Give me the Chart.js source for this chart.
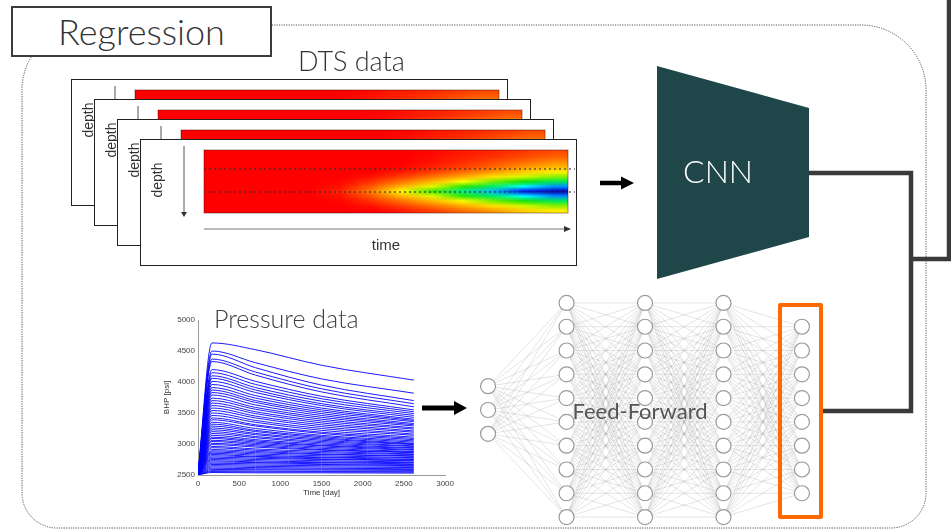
<!DOCTYPE html>
<html>
<head>
<meta charset="utf-8">
<script src="https://cdn.jsdelivr.net/npm/chart.js@4.4.0/dist/chart.umd.min.js"></script>
<style>
  html, body { margin: 0; padding: 0; background: #fff; }
  #stage { position: relative; width: 951px; height: 531px; overflow: hidden; font-family: Lato, "Open Sans", sans-serif; }
  .abs { position: absolute; }
  .frame { position: absolute; width: 437px; height: 127px; border: 1px solid #222; box-sizing: border-box; background: #fff; }
  .frame canvas { position: absolute; left: 0; top: 0; }
  svg { position: absolute; left: 0; top: 0; }
  #regBox { position: absolute; left: 11px; top: 6px; width: 261px; height: 51px; border: 2px solid #3c3c3c; box-sizing: border-box; background: #fff;
            font: 300 36px Lato, sans-serif; color: #333; text-align: center; line-height: 46px; }
  #outBox { position: absolute; left: 778px; top: 303px; width: 45px; height: 216px; border: 4px solid #ff6a00; box-sizing: border-box; border-radius: 2px; }
</style>
</head>
<body>
<div id="stage">
  <svg width="951" height="531">
    <path d="M 87 25 H 861 A 65 65 0 0 1 926 90 V 493 A 35 35 0 0 1 891 528 H 57 A 35 35 0 0 1 22 493 V 90 A 65 65 0 0 1 87 25 Z"
          fill="none" stroke="#555" stroke-width="1" stroke-dasharray="1.2 1.2"/>
  </svg>

  <div id="frames"></div>

  <canvas id="pressureChart" class="abs" style="left:158px;top:312px" width="300" height="189"></canvas>
  <canvas id="nnChart" class="abs" style="left:470px;top:292px" width="350" height="236"></canvas>
  <div id="outBox"></div>

  <svg width="951" height="531">
    <!-- connectors -->
    <path d="M 809 173 H 911 V 411 H 823" fill="none" stroke="#3a3a3a" stroke-width="4.5"/>
    <path d="M 911 259 H 949 V -5" fill="none" stroke="#3a3a3a" stroke-width="4.5"/>
    <!-- CNN block -->
    <polygon points="657,66 809,108 809,237 657,279" fill="#1f4649"/>
    <text x="718" y="183" text-anchor="middle" fill="#fff" style="font: 300 32px Lato, sans-serif">CNN</text>
    <!-- arrows -->
    <line x1="600" y1="183" x2="623" y2="183" stroke="#000" stroke-width="4.5"/>
    <polygon points="621,176.5 634,183 621,189.5" fill="#000"/>
    <line x1="422" y1="408" x2="456" y2="408" stroke="#000" stroke-width="5"/>
    <polygon points="454,401 467,408 454,415" fill="#000"/>
    <!-- labels -->
    <text x="298" y="71" fill="#333" style="font: 300 27px Lato, sans-serif">DTS data</text>
    <text x="214" y="328" fill="#404040" style="font: 300 25px Lato, sans-serif">Pressure data</text>
    <text x="640" y="419" text-anchor="middle" fill="#555" style="font: 400 22px Lato, sans-serif">Feed-Forward</text>
  </svg>

  <div id="regBox">Regression</div>
</div>

<script>
// ---------- data ----------
// pressure runs: BHP [psi] at the sample times (days)
const pressureTimes = [0, 170, 700, 1500, 2620];
const pressureRuns = [
  [2530, 4630, 4520, 4270, 4030],
  [2530, 4500, 4310, 4050, 3820],
  [2530, 4450, 4230, 3950, 3700],
  [2520, 4370, 4160, 3890, 3650],
  [2520, 4330, 4110, 3840, 3600],
  [2520, 4200, 4010, 3770, 3550],
  [2520, 4150, 3960, 3730, 3520],
  [2520, 4100, 3910, 3690, 3490],
  [2520, 4060, 3870, 3650, 3460],
  [2520, 4010, 3830, 3620, 3430],
  [2520, 3960, 3780, 3580, 3400],
  [2520, 3910, 3740, 3550, 3380],
  [2520, 3870, 3700, 3520, 3360],
  [2520, 3830, 3670, 3490, 3330],
  [2520, 3790, 3630, 3460, 3310],
  [2520, 3740, 3590, 3430, 3290],
  [2520, 3700, 3560, 3400, 3260],
  [2520, 3660, 3520, 3370, 3240],
  [2520, 3620, 3490, 3340, 3210],
  [2520, 3580, 3450, 3310, 3190],
  [2520, 3540, 3420, 3280, 3160],
  [2520, 3500, 3380, 3250, 3140],
  [2520, 3460, 3350, 3220, 3110],
  [2520, 3420, 3310, 3190, 3090],
  [2520, 3390, 3290, 3170, 3070],
  [2520, 3350, 3250, 3140, 3050],
  [2520, 3320, 3220, 3120, 3030],
  [2520, 3290, 3200, 3100, 3010],
  [2520, 3260, 3170, 3080, 3000],
  [2520, 3230, 3150, 3060, 2990],
  [2520, 3200, 3120, 3040, 2970],
  [2520, 3170, 3100, 3020, 2960],
  [2520, 3140, 3070, 3000, 2940],
  [2520, 3110, 3050, 2980, 2930],
  [2520, 3090, 3030, 2970, 2910],
  [2520, 3060, 3010, 2950, 2900],
  [2520, 3040, 2990, 2930, 2880],
  [2520, 3010, 2970, 2910, 2870],
  [2520, 2990, 2950, 2900, 2860],
  [2520, 2960, 2920, 2880, 2840],
  [2520, 2940, 2900, 2860, 2830],
  [2520, 2910, 2880, 2840, 2810],
  [2510, 2890, 2860, 2830, 2800],
  [2510, 2870, 2840, 2810, 2780],
  [2510, 2850, 2820, 2790, 2770],
  [2510, 2830, 2800, 2780, 2750],
  [2510, 2810, 2790, 2760, 2740],
  [2510, 2790, 2770, 2750, 2730],
  [2510, 2770, 2750, 2730, 2710],
  [2510, 2750, 2730, 2710, 2700],
  [2510, 2730, 2710, 2700, 2680],
  [2510, 2710, 2700, 2680, 2670],
  [2510, 2690, 2680, 2670, 2650],
  [2510, 2670, 2660, 2650, 2640],
  [2510, 2650, 2640, 2630, 2620],
  [2510, 2630, 2620, 2610, 2600],
  [2505, 2610, 2600, 2595, 2590],
  [2505, 2590, 2585, 2580, 2575],
  [2505, 2570, 2565, 2560, 2560],
  [2505, 2555, 2550, 2550, 2545],
  [2500, 2540, 2535, 2535, 2530]
];
const pressureXTicks = [0, 500, 1000, 1500, 2000, 2500, 3000];
const pressureYTicks = [2500, 3000, 3500, 4000, 4500, 5000];

// DTS temperature field (1 = hot/red, 0 = cold/blue), rows = depth, cols = time
const dtsGrid = [
  [1, 1, 1, 1, 1,    1,    1,    0.99, 0.96, 0.94, 0.91, 0.88],
  [1, 1, 1, 1, 1,    1,    1,    0.98, 0.95, 0.92, 0.88, 0.84],
  [1, 1, 1, 1, 1,    1,    1,    0.97, 0.93, 0.88, 0.83, 0.78],
  [1, 1, 1, 1, 1,    1,    0.99, 0.95, 0.90, 0.84, 0.77, 0.72],
  [1, 1, 1, 1, 1,    1,    0.96, 0.90, 0.83, 0.76, 0.69, 0.64],
  [1, 1, 1, 1, 1,    0.97, 0.90, 0.82, 0.74, 0.66, 0.59, 0.54],
  [1, 1, 1, 1, 0.99, 0.92, 0.82, 0.72, 0.62, 0.53, 0.46, 0.40],
  [1, 1, 1, 1, 0.97, 0.86, 0.72, 0.60, 0.48, 0.39, 0.30, 0.22],
  [1, 1, 1, 1, 0.94, 0.80, 0.62, 0.49, 0.37, 0.25, 0.13, 0.03],
  [1, 1, 1, 1, 0.97, 0.86, 0.72, 0.60, 0.48, 0.39, 0.30, 0.22],
  [1, 1, 1, 1, 0.99, 0.92, 0.82, 0.72, 0.62, 0.53, 0.46, 0.40],
  [1, 1, 1, 1, 1,    0.97, 0.90, 0.82, 0.74, 0.66, 0.59, 0.54],
  [1, 1, 1, 1, 1,    1,    0.96, 0.90, 0.83, 0.76, 0.69, 0.64]
];
const dtsDashDepths = [0.30, 0.667];
const dtsColorStops = [[0, [0, 0, 160]], [0.12, [0, 0, 255]], [0.30, [0, 255, 255]], [0.45, [0, 224, 0]],
                       [0.62, [255, 255, 0]], [0.80, [255, 128, 0]], [1, [255, 0, 0]]];

// network layout: nodes per layer
const layerSizes = [3, 10, 10, 10, 8];

// ---------- DTS frames ----------
function heatColor(v) {
  for (let i = 1; i < dtsColorStops.length; i++) {
    const [p1, c1] = dtsColorStops[i];
    const [p0, c0] = dtsColorStops[i - 1];
    if (v <= p1) {
      const t = (v - p0) / (p1 - p0);
      return c0.map((c, k) => Math.round(c + (c1[k] - c) * t));
    }
  }
  return dtsColorStops[dtsColorStops.length - 1][1];
}

const heatSrc = document.createElement('canvas');
heatSrc.width = dtsGrid[0].length;
heatSrc.height = dtsGrid.length;
(function () {
  const hctx = heatSrc.getContext('2d');
  const img = hctx.createImageData(heatSrc.width, heatSrc.height);
  dtsGrid.forEach((row, r) => row.forEach((v, c) => {
    const [R, G, B] = heatColor(v);
    const i = (r * heatSrc.width + c) * 4;
    img.data[i] = R; img.data[i + 1] = G; img.data[i + 2] = B; img.data[i + 3] = 255;
  }));
  hctx.putImageData(img, 0, 0);
})();

const dtsPlugin = {
  id: 'dts',
  afterDraw(chart) {
    const { ctx, chartArea: a, scales: { x, y } } = chart;
    const x0 = x.getPixelForValue(0), x1 = x.getPixelForValue(1);
    const y0 = y.getPixelForValue(0), y1 = y.getPixelForValue(1);
    ctx.save();
    ctx.fillStyle = '#ff0000';
    ctx.fillRect(x0, y0, x1 - x0, y1 - y0);
    ctx.imageSmoothingEnabled = true;
    ctx.drawImage(heatSrc, x0, y0, x1 - x0, y1 - y0);
    ctx.strokeStyle = 'rgba(60,0,0,0.45)';
    ctx.lineWidth = 1;
    ctx.strokeRect(x0, y0, x1 - x0, y1 - y0);

    // sensor lines
    ctx.setLineDash([2, 3]);
    ctx.strokeStyle = 'rgba(50,50,50,0.75)';
    ctx.lineWidth = 1.5;
    dtsDashDepths.forEach(d => {
      const yy = y.getPixelForValue(d);
      ctx.beginPath(); ctx.moveTo(x0, yy); ctx.lineTo(x1 + 7, yy); ctx.stroke();
    });
    ctx.setLineDash([]);

    // depth arrow
    const ax = a.left - 20;
    ctx.strokeStyle = '#555'; ctx.fillStyle = '#333'; ctx.lineWidth = 1;
    ctx.beginPath(); ctx.moveTo(ax, a.top - 4); ctx.lineTo(ax, a.bottom); ctx.stroke();
    ctx.beginPath(); ctx.moveTo(ax - 3, a.bottom - 1); ctx.lineTo(ax + 3, a.bottom - 1); ctx.lineTo(ax, a.bottom + 4); ctx.closePath(); ctx.fill();
    // time arrow
    const ty = a.bottom + 16;
    ctx.strokeStyle = '#777';
    ctx.beginPath(); ctx.moveTo(a.left, ty); ctx.lineTo(a.right - 2, ty); ctx.stroke();
    ctx.beginPath(); ctx.moveTo(a.right - 4, ty - 3); ctx.lineTo(a.right + 3, ty); ctx.lineTo(a.right - 4, ty + 3); ctx.closePath(); ctx.fill();

    // labels
    ctx.fillStyle = '#333';
    ctx.textAlign = 'center'; ctx.textBaseline = 'middle';
    ctx.font = '14px "Liberation Sans", Arial, sans-serif';
    ctx.save();
    ctx.translate(a.left - 46, a.top + 30);
    ctx.rotate(-Math.PI / 2);
    ctx.fillText('depth', 0, 0);
    ctx.restore();
    ctx.font = '15px "Liberation Sans", Arial, sans-serif';
    ctx.fillText('time', (a.left + a.right) / 2, a.bottom + 33);
    ctx.restore();
  }
};

const frameLefts = [71, 94, 117, 140];
const frameTops = [79, 99, 119, 139];
const framesEl = document.getElementById('frames');
frameLefts.forEach((left, i) => {
  const f = document.createElement('div');
  f.className = 'frame';
  f.style.left = left + 'px';
  f.style.top = frameTops[i] + 'px';
  const c = document.createElement('canvas');
  c.width = 435; c.height = 125;
  f.appendChild(c);
  framesEl.appendChild(f);
  new Chart(c, {
    type: 'scatter',
    data: { datasets: [] },
    plugins: [dtsPlugin],
    options: {
      responsive: false, animation: false, events: [],
      layout: { autoPadding: false, padding: { left: 63, top: 10, right: 8, bottom: 52 } },
      plugins: { legend: { display: false }, tooltip: { enabled: false } },
      scales: {
        x: { type: 'linear', min: 0, max: 1, display: false },
        y: { type: 'linear', min: 0, max: 1, reverse: true, display: false }
      }
    }
  });
});

// ---------- pressure chart ----------
const tickFont = { family: '"Liberation Sans", Arial, sans-serif', size: 8 };
new Chart(document.getElementById('pressureChart'), {
  type: 'line',
  data: {
    datasets: pressureRuns.map(run => ({
      data: run.map((v, k) => ({ x: pressureTimes[k], y: v })),
      borderColor: '#0000ff',
      borderWidth: 0.9,
      pointRadius: 0,
      cubicInterpolationMode: 'monotone',
      fill: false
    }))
  },
  options: {
    responsive: false, animation: false, events: [],
    layout: { autoPadding: false, padding: { top: 8, right: 9, left: 0, bottom: 0 } },
    plugins: { legend: { display: false }, tooltip: { enabled: false } },
    scales: {
      x: {
        type: 'linear', min: 0, max: 3000,
        afterBuildTicks: s => { s.ticks = pressureXTicks.map(v => ({ value: v })); },
        afterFit: s => { s.height = 26; },
        grid: { display: false, drawTicks: false },
        border: { display: true, color: '#9a9a9a', width: 1 },
        ticks: { font: tickFont, color: '#444', padding: 4, maxRotation: 0, callback: v => String(v) },
        title: { display: true, text: 'Time [day]', font: tickFont, color: '#333', padding: { top: 0, bottom: 3 } }
      },
      y: {
        type: 'linear', min: 2500, max: 5000,
        afterBuildTicks: s => { s.ticks = pressureYTicks.map(v => ({ value: v })); },
        afterFit: s => { s.width = 40; },
        grid: { display: false, drawTicks: false },
        border: { display: true, color: '#9a9a9a', width: 1 },
        ticks: { font: tickFont, color: '#444', padding: 3, callback: v => String(v) },
        title: { display: true, text: 'BHP [psi]', font: tickFont, color: '#333', padding: { top: 4, bottom: 0 } }
      }
    }
  }
});

// ---------- feed-forward network ----------
const nnNodes = [];
layerSizes.forEach((n, l) => {
  for (let i = 0; i < n; i++) nnNodes.push({ x: l, y: i - (n - 1) / 2 });
});

const nnLinks = {
  id: 'nnLinks',
  beforeDatasetsDraw(chart) {
    const { ctx, scales: { x, y } } = chart;
    ctx.save();
    ctx.strokeStyle = 'rgba(150,150,150,0.35)';
    ctx.lineWidth = 0.7;
    for (let l = 0; l < layerSizes.length - 1; l++) {
      const a = nnNodes.filter(p => p.x === l);
      const b = nnNodes.filter(p => p.x === l + 1);
      a.forEach(p => b.forEach(q => {
        ctx.beginPath();
        ctx.moveTo(x.getPixelForValue(p.x), y.getPixelForValue(p.y));
        ctx.lineTo(x.getPixelForValue(q.x), y.getPixelForValue(q.y));
        ctx.stroke();
      }));
    }
    ctx.restore();
  }
};

new Chart(document.getElementById('nnChart'), {
  type: 'scatter',
  data: {
    datasets: [{
      data: nnNodes,
      pointRadius: 7.5,
      pointBackgroundColor: '#fff',
      pointBorderColor: '#9a9a9a',
      pointBorderWidth: 1.2
    }]
  },
  plugins: [nnLinks],
  options: {
    responsive: false, animation: false, events: [],
    layout: { autoPadding: false, padding: 0 },
    plugins: { legend: { display: false }, tooltip: { enabled: false } },
    scales: {
      x: { type: 'linear', min: -0.23, max: 4.23, display: false },
      y: { type: 'linear', min: -4.96, max: 4.96, reverse: true, display: false }
    }
  }
});
</script>
</body>
</html>
